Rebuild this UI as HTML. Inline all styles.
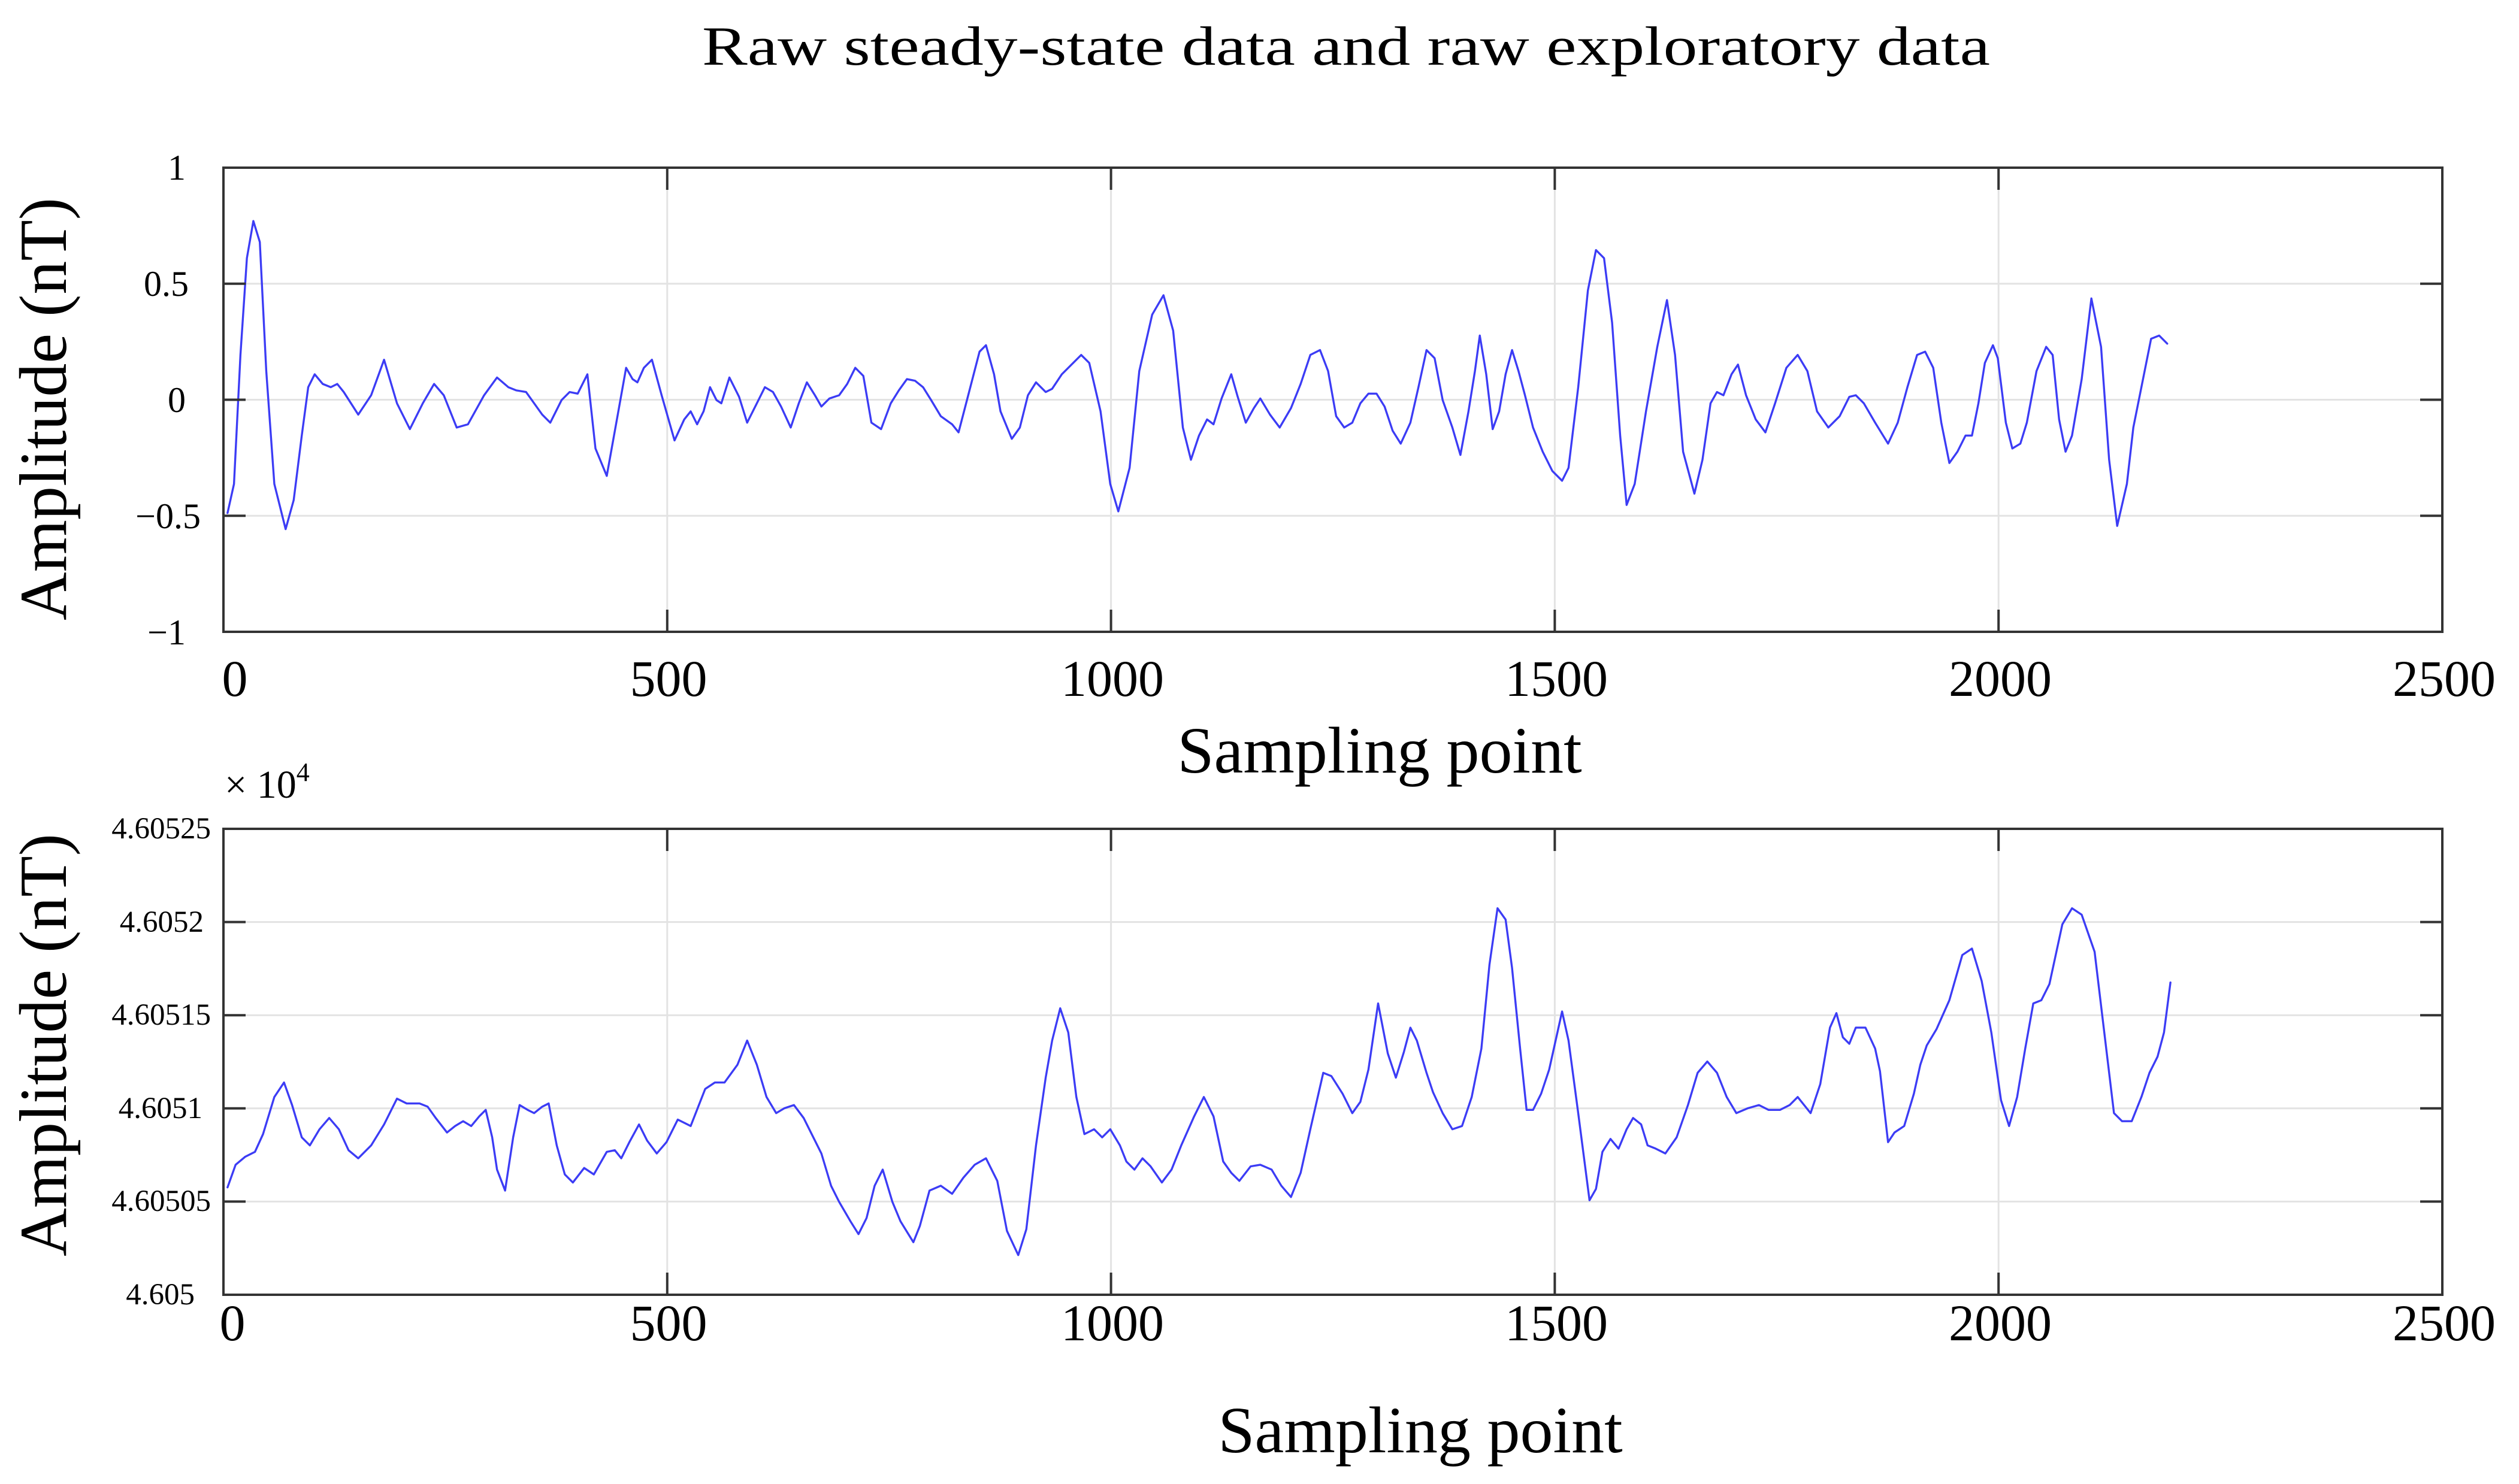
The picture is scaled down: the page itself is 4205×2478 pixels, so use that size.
<!DOCTYPE html>
<html><head><meta charset="utf-8"><style>
html,body{margin:0;padding:0;background:#fff;}
svg{display:block;}
text{font-family:"Liberation Serif","Times New Roman",serif;fill:#000;}
</style></head><body>
<svg width="4205" height="2478" viewBox="0 0 4205 2478" xmlns="http://www.w3.org/2000/svg">
<rect width="4205" height="2478" fill="#fff"/>
<text x="2247" y="108" font-size="92" text-anchor="middle" textLength="2150" lengthAdjust="spacingAndGlyphs">Raw steady-state data and raw exploratory data</text>

<g stroke="#e3e3e3" stroke-width="3">
<line x1="373" y1="473.75" x2="4077" y2="473.75"/>
<line x1="373" y1="667.5" x2="4077" y2="667.5"/>
<line x1="373" y1="861.25" x2="4077" y2="861.25"/>
<line x1="1113.8" y1="280" x2="1113.8" y2="1055"/>
<line x1="1854.6" y1="280" x2="1854.6" y2="1055"/>
<line x1="2595.4" y1="280" x2="2595.4" y2="1055"/>
<line x1="3336.2" y1="280" x2="3336.2" y2="1055"/>
</g>
<g stroke="#e3e3e3" stroke-width="3">
<line x1="373" y1="1539.6" x2="4077" y2="1539.6"/>
<line x1="373" y1="1695.2" x2="4077" y2="1695.2"/>
<line x1="373" y1="1850.8" x2="4077" y2="1850.8"/>
<line x1="373" y1="2006.4" x2="4077" y2="2006.4"/>
<line x1="1113.8" y1="1384" x2="1113.8" y2="2162"/>
<line x1="1854.6" y1="1384" x2="1854.6" y2="2162"/>
<line x1="2595.4" y1="1384" x2="2595.4" y2="2162"/>
<line x1="3336.2" y1="1384" x2="3336.2" y2="2162"/>
</g>

<g transform="scale(2.6938)" fill="none" stroke="#3c3cf5" stroke-width="1.25" stroke-linejoin="round" stroke-linecap="round">
<polyline points="141,318 145,300 149,220 153,160 157,137 161,150 165,230 170,300 177,328 182,310 187,270 191,240 195,232 200,238 205,240 209,238 213,243 222,257 230,245 238,223 246,250 254,266 262,250 269,238 275,245 283,265 290,263 300,245 308,234 315,240 320,242 326,243 336,257 341,262 348,248 353,243 358,244 364,232 369,278 376,295 383,256 388,228 392,235 395,237 399,228 404,223 410,245 418,273 424,260 428,255 432,263 436,255 440,240 444,248 447,250 452,234 458,246 463,262 469,250 474,240 479,243 484,252 490,265 495,250 500,237 505,245 509,252 514,247 520,245 525,238 530,228 535,233 540,262 546,266 552,250 557,242 562,235 567,236 572,240 577,248 583,258 590,263 594,268 600,245 607,218 611,214 616,232 620,255 627,272 632,265 637,245 642,237 648,243 652,241 658,232 664,226 670,220 675,225 682,255 688,300 693,317 700,290 706,230 714,195 721,183 727,205 733,265 738,285 743,270 748,260 752,263 757,247 763,232 767,246 772,262 777,253 781,247 787,257 793,265 800,253 806,238 812,220 818,217 823,230 828,258 833,265 838,262 843,250 848,244 853,244 858,252 863,267 868,275 874,262 879,240 884,217 889,222 894,248 900,265 905,282 910,255 914,230 917,208 921,232 925,266 929,255 933,232 937,217 941,230 945,245 950,265 956,280 962,292 968,298 972,290 978,240 984,180 989,155 994,160 999,200 1004,270 1008,313 1013,300 1020,255 1027,215 1033,186 1038,220 1043,280 1050,306 1055,285 1060,250 1064,243 1068,245 1073,232 1077,226 1082,245 1088,260 1094,268 1100,250 1107,228 1114,220 1120,230 1126,255 1133,265 1140,258 1146,246 1150,245 1155,250 1162,262 1170,275 1176,262 1182,240 1188,220 1193,218 1198,228 1203,262 1208,287 1213,280 1218,270 1222,270 1226,250 1230,225 1235,214 1238,222 1243,262 1247,278 1252,275 1256,262 1262,230 1268,215 1272,220 1276,260 1280,280 1284,270 1290,235 1296,185 1302,215 1307,285 1312,326 1318,300 1322,265 1328,235 1333,210 1338,208 1343,213"/>
<polyline points="141,736 146,722 152,717 158,714 163,703 170,680 176,671 181,685 187,705 192,710 198,700 204,693 210,700 216,713 222,718 230,710 238,697 246,681 252,684 260,684 265,686 270,693 277,702 282,698 287,695 292,698 297,692 301,688 305,705 308,725 313,738 318,705 322,685 327,688 331,690 336,686 340,684 345,710 350,728 355,733 362,724 368,728 376,714 381,713 385,718 390,708 396,697 401,707 407,715 413,708 420,694 428,698 437,675 443,671 449,671 457,660 463,645 469,660 475,680 481,690 486,687 492,685 498,693 503,703 509,715 515,735 520,745 527,757 532,765 537,755 542,735 547,725 553,745 558,757 566,770 570,760 576,738 583,735 590,740 597,730 604,722 611,718 618,732 624,763 631,778 636,762 642,710 648,668 652,645 657,625 662,640 667,680 672,703 678,700 683,705 688,700 694,710 698,720 703,725 708,718 713,723 720,733 726,725 732,710 740,692 746,680 752,692 758,720 763,727 768,732 775,723 781,722 788,725 794,735 800,742 806,727 812,700 820,665 825,667 832,678 838,690 843,683 848,663 854,622 860,653 865,668 870,652 874,637 878,645 884,665 888,677 894,690 900,700 906,698 912,680 918,650 923,598 928,563 933,570 937,600 942,650 946,688 950,688 955,678 960,663 964,645 968,627 972,645 978,690 985,744 989,737 993,714 998,706 1003,712 1008,700 1012,693 1017,697 1021,710 1026,712 1032,715 1039,705 1046,685 1052,665 1058,658 1064,665 1070,680 1076,690 1083,687 1090,685 1096,688 1103,688 1109,685 1114,680 1118,685 1122,690 1128,672 1134,637 1138,628 1142,643 1146,647 1150,637 1156,637 1162,650 1165,664 1170,708 1174,702 1180,698 1186,678 1190,660 1194,648 1200,638 1208,620 1216,592 1222,588 1228,608 1234,640 1240,682 1245,698 1250,680 1255,650 1260,622 1265,620 1270,610 1278,573 1284,563 1290,567 1298,590 1304,640 1310,690 1315,695 1321,695 1327,680 1332,665 1337,655 1341,640 1345,609"/>
</g>

<g stroke="#333" stroke-width="4" fill="none">
<rect x="373" y="280" width="3704" height="775"/>
<rect x="373" y="1384" width="3704" height="778"/>
<path d="M373,473.75h37M373,667.5h37M373,861.25h37M4077,473.75h-37M4077,667.5h-37M4077,861.25h-37
M1113.8,280v37M1854.6,280v37M2595.4,280v37M3336.2,280v37M1113.8,1055v-37M1854.6,1055v-37M2595.4,1055v-37M3336.2,1055v-37"/>
<path d="M373,1539.6h37M373,1695.2h37M373,1850.8h37M373,2006.4h37M4077,1539.6h-37M4077,1695.2h-37M4077,1850.8h-37M4077,2006.4h-37
M1113.8,1384v37M1854.6,1384v37M2595.4,1384v37M3336.2,1384v37M1113.8,2162v-37M1854.6,2162v-37M2595.4,2162v-37M3336.2,2162v-37"/>
</g>

<g font-size="60" text-anchor="end">
<text x="310" y="300">1</text>
<text x="315" y="494">0.5</text>
<text x="310" y="688">0</text>
<text x="335" y="882">−0.5</text>
<text x="310" y="1076">−1</text>
</g>
<g font-size="86" text-anchor="middle">
<text x="392" y="1162">0</text>
<text x="1116" y="1162">500</text>
<text x="1857" y="1162">1000</text>
<text x="2598" y="1162">1500</text>
<text x="3339" y="1162">2000</text>
<text x="4080" y="1162">2500</text>
</g>
<text x="2303" y="1290" font-size="110" text-anchor="middle">Sampling point</text>
<text transform="translate(110,683) rotate(-90)" font-size="112" text-anchor="middle">Amplitude (nT)</text>

<text x="375" y="1332" font-size="66">× 10<tspan font-size="44" dy="-28">4</tspan></text>
<g font-size="51" text-anchor="end">
<text x="352" y="1400">4.60525</text>
<text x="340" y="1556">4.6052</text>
<text x="352" y="1711">4.60515</text>
<text x="338" y="1867">4.6051</text>
<text x="352" y="2022">4.60505</text>
<text x="325" y="2178">4.605</text>
</g>
<g font-size="86" text-anchor="middle">
<text x="388" y="2238">0</text>
<text x="1116" y="2238">500</text>
<text x="1857" y="2238">1000</text>
<text x="2598" y="2238">1500</text>
<text x="3339" y="2238">2000</text>
<text x="4080" y="2238">2500</text>
</g>
<text x="2371" y="2425" font-size="110" text-anchor="middle">Sampling point</text>
<text transform="translate(110,1745) rotate(-90)" font-size="112" text-anchor="middle">Amplitude (nT)</text>
</svg>
</body></html>
